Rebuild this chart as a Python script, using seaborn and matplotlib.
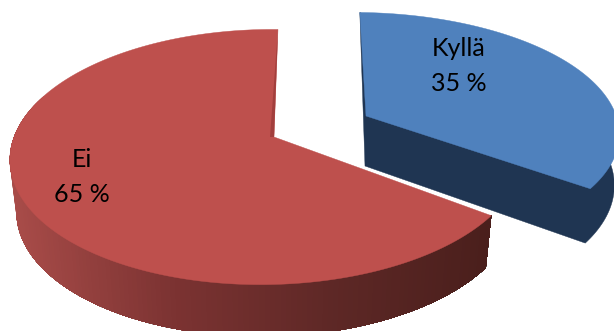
import numpy as np
import matplotlib
matplotlib.use("Agg")
import matplotlib.pyplot as plt
import seaborn as sns

# Survey shares, drawn clockwise from twelve o'clock
categories = ["Kyllä", "Ei"]
shares = [35, 65]

TOP_BLUE, TOP_RED = "#4F81BD", "#BE504D"
NAVY = "#1F3552"
RED_SIDE = ["#A94C49", "#7C3332", "#5E2826", "#4A1F1C"]

sns.set_style("white")
plt.rcParams["font.family"] = ["Lato", "DejaVu Sans"]

fig, ax = plt.subplots(figsize=(6.14, 3.31), dpi=100)
ax.set_position([0, 0, 1, 1])
ax.set_xlim(0, 614)
ax.set_ylim(331, 0)
ax.axis("off")


def camera(hub, a, b, shear, k=0.157, g=0.027):
    """Perspective projection of the unit disc, angles in degrees clockwise from north."""
    def project(theta):
        t = np.radians(np.asarray(theta, dtype=float))
        u, v = np.sin(t), -np.cos(t)
        w = 1 + g * u - k * v
        return np.column_stack([hub[0] + (a * u + shear * v) / w,
                                hub[1] + b * v / w])
    return project


def floor(points, hub, sx, sy, dx, dy):
    """Lower rim of the slab for points on the upper rim."""
    out = np.array(points, dtype=float)
    out[:, 0] = hub[0] + sx * (out[:, 0] - hub[0]) + dx
    out[:, 1] = hub[1] + sy * (out[:, 1] - hub[1]) + dy
    return out


sweep = 360 * shares[0] / sum(shares)

# Detached slice: the whole dark body as one outline, the lit face on top
blue_hub = (366, 116)
blue = camera(blue_hub, 257, 117, 7, k=0.13)
hub_pt = np.array([blue_hub], dtype=float)
low_arc = floor(blue(np.linspace(sweep, 60, 80)), blue_hub, 1.0, 1.06, -5, 50)
body = np.vstack([blue([0]), hub_pt + [-1, 50], low_arc])
ax.fill(*body.T, color=NAVY, lw=0.3, zorder=1)
ax.fill(*np.vstack([hub_pt, blue(np.linspace(0, sweep, 120))]).T,
        color=TOP_BLUE, lw=0.3, zorder=2)

# Main slice, outer wall shaded left to right in overlapping strips
red_hub = (274, 137)
red = camera(red_hub, 253, 124.4, -4.6)
wall_angles = np.linspace(290, sweep, 160)
ramp = sns.blend_palette(RED_SIDE, n_colors=256)
for i in range(len(wall_angles) - 1):
    upper = red(wall_angles[i:])
    lower = floor(upper, red_hub, 0.975, 1.0, 0, 52)
    mid_x = upper[:2, 0].mean()
    shade = ramp[int(np.clip((mid_x - 10) / 480, 0, 1) * 255)]
    ax.fill(*np.vstack([upper, lower[::-1]]).T, color=shade, lw=0, zorder=3)
hub_pt = np.array([red_hub], dtype=float)
ax.fill(*np.vstack([hub_pt, red(np.linspace(sweep, 360, 240))]).T,
        color=TOP_RED, lw=0.3, zorder=4)
ax.fill(*np.vstack([red([360]), hub_pt, hub_pt + [-4, 0]]).T, color="#A23F3D", lw=0, zorder=5)

# Slice captions
caption_xy = [(459, 66), (82, 177)]
for name, share, (x, y) in zip(categories, shares, caption_xy):
    ax.text(x, y, f"{name}\n{share} %", ha="center", va="center", fontsize=18,
            color="black", linespacing=1.6, zorder=6)

fig.savefig("out.png", dpi=100)
